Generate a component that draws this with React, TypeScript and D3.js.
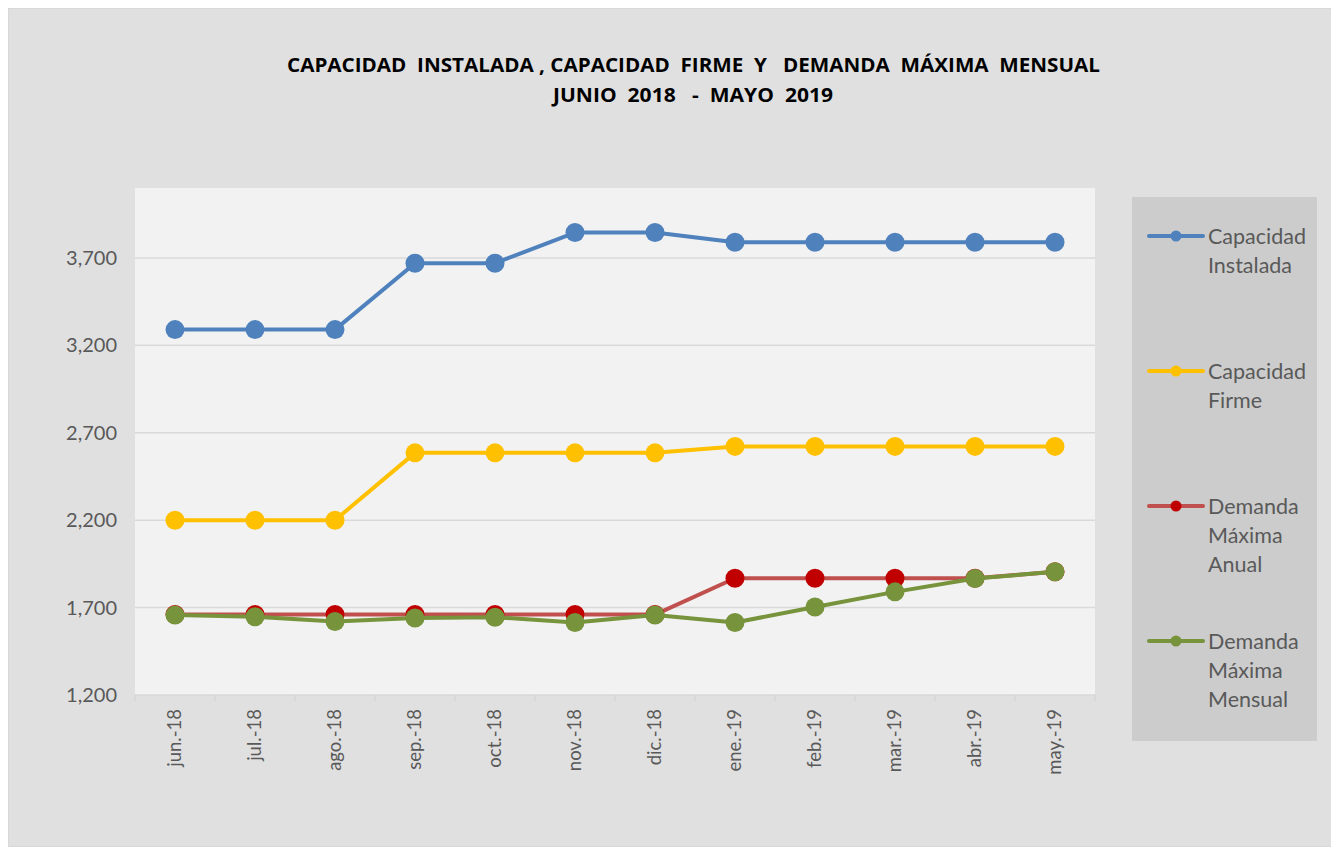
import React from "react";
import * as d3 from "d3";

const categories = ["jun.-18","jul.-18","ago.-18","sep.-18","oct.-18","nov.-18","dic.-18","ene.-19","feb.-19","mar.-19","abr.-19","may.-19"];
const capacidadInstalada = [3290,3290,3290,3670,3670,3845,3845,3790,3790,3790,3790,3790];
const capacidadFirme = [2200,2200,2200,2585,2585,2585,2585,2622,2622,2622,2622,2622];
const demandaAnual = [1660,1660,1660,1660,1660,1660,1660,1868,1868,1868,1868,1905];
const demandaMensual = [1657,1648,1620,1640,1645,1615,1658,1615,1703,1790,1866,1905];
const yTicks = [1200,1700,2200,2700,3200,3700];
const titleLines = ["CAPACIDAD  INSTALADA , CAPACIDAD  FIRME  Y   DEMANDA  MÁXIMA  MENSUAL", "JUNIO  2018   -  MAYO  2019"];

const series = [
  { name: ["Capacidad","Instalada"], values: capacidadInstalada, line: "#4f81bd", marker: "#4f81bd" },
  { name: ["Capacidad","Firme"], values: capacidadFirme, line: "#ffc000", marker: "#ffc000" },
  { name: ["Demanda","Máxima","Anual"], values: demandaAnual, line: "#c0504d", marker: "#c00000" },
  { name: ["Demanda","Máxima","Mensual"], values: demandaMensual, line: "#77933c", marker: "#77933c" },
];

const W = 1331, H = 839; // svg placed at (8,8)
const OX = 8, OY = 8;
const plot = { left: 135 - OX, right: 1095 - OX, top: 188 - OY, bottom: 695 - OY };

export default function App() {
  const x = d3.scaleBand<string>().domain(categories).range([plot.left, plot.right]).padding(0);
  const y = d3.scaleLinear().domain([1200, 4100]).range([plot.bottom, plot.top]);
  const cx = (c: string) => (x(c) as number) + x.bandwidth() / 2;
  const line = d3.line<number>().x((_, i) => cx(categories[i])).y((v) => y(v));
  const font = "Lato, 'Open Sans', sans-serif";
  const legendY = [236, 371, 506, 641];
  const titleSpans = [[287, 1100, 72], [553, 833, 102]];
  return (
    <svg width={W} height={H} style={{ display: "block" }} fontFamily={font}>
      <rect x={0} y={0} width={W} height={H} fill="#e0e0e0" stroke="#d0d0d0" />
      {titleLines.map((t, i) => (
        <text key={i} x={titleSpans[i][0] - OX} y={titleSpans[i][2] - OY} textLength={titleSpans[i][1] - titleSpans[i][0]} lengthAdjust="spacingAndGlyphs" fontSize={19} fontWeight="bold" fill="#000" fontFamily="'Open Sans', sans-serif" style={{ whiteSpace: "pre" }}>
          {t}
        </text>
      ))}
      <rect x={plot.left} y={plot.top} width={plot.right - plot.left} height={plot.bottom - plot.top} fill="#f2f2f2" />
      {yTicks.map((t) => (
        <g key={t}>
          {t > 1200 && <line x1={plot.left} x2={plot.right} y1={y(t)} y2={y(t)} stroke="#d9d9d9" strokeWidth={1.5} />}
          <text x={plot.left - 18} y={y(t)} dy="0.35em" textAnchor="end" fontSize={20} fill="#595959">
            {d3.format(",")(t)}
          </text>
        </g>
      ))}
      <line x1={plot.left} x2={plot.right} y1={plot.bottom} y2={plot.bottom} stroke="#d9d9d9" strokeWidth={1.5} />
      {categories.map((c) => (
        <line key={"tk" + c} x1={x(c) as number} x2={x(c) as number} y1={plot.bottom} y2={plot.bottom + 6} stroke="#d0d0d0" />
      ))}
      <line x1={plot.right} x2={plot.right} y1={plot.bottom} y2={plot.bottom + 6} stroke="#d0d0d0" />
      {categories.map((c) => (
        <text key={c} transform={`translate(${cx(c)},${plot.bottom + 14}) rotate(-90)`} dy="0.35em" textAnchor="end" fontSize={18.5} fill="#595959">
          {c}
        </text>
      ))}
      {series.map((s) => (
        <g key={s.name.join(" ")}>
          <path d={line(s.values) || ""} fill="none" stroke={s.line} strokeWidth={4} strokeLinejoin="round" />
          {s.values.map((v, i) => (
            <circle key={i} cx={cx(categories[i])} cy={y(v)} r={9.5} fill={s.marker} />
          ))}
        </g>
      ))}
      <rect x={1132 - OX} y={197 - OY} width={185} height={544} fill="#cccccc" />
      {series.map((s, k) => (
        <g key={"lg" + k}>
          <line x1={1149 - OX} x2={1203 - OX} y1={legendY[k] - OY} y2={legendY[k] - OY} stroke={s.line} strokeWidth={4} strokeLinecap="round" />
          <circle cx={1176 - OX} cy={legendY[k] - OY} r={5.5} fill={s.marker} />
          {s.name.map((n, j) => (
            <text key={j} x={1208 - OX} y={legendY[k] - OY + j * 29} dy="0.35em" fontSize={21.5} fill="#595959">
              {n}
            </text>
          ))}
        </g>
      ))}
    </svg>
  );
}
